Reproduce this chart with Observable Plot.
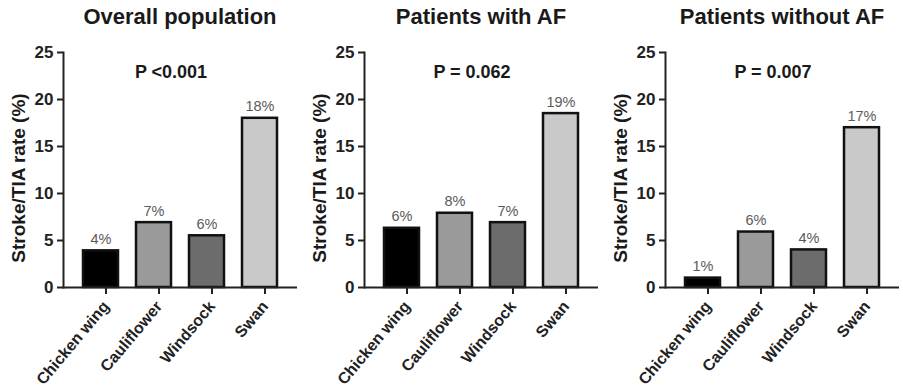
<!DOCTYPE html>
<html>
<head>
<meta charset="utf-8">
<script src="https://cdn.jsdelivr.net/npm/d3@7"></script>
<script src="https://cdn.jsdelivr.net/npm/@observablehq/plot@0.6"></script>
<style>
  html, body { margin: 0; padding: 0; background: #fff; }
  #wrap { display: flex; width: 903px; height: 392px; font-family: "Liberation Sans", Arial, sans-serif; overflow: hidden; }
  .panel { width: 301px; }
  .title { box-sizing: border-box; width: 301px; height: 36px; line-height: 34px; padding-left: 63px; padding-right: 4px;
           text-align: center; font-weight: bold; font-size: 22px; color: #1a1a1a; white-space: nowrap; }
  svg { display: block; overflow: visible; }
</style>
</head>
<body>
<div id="wrap"></div>
<script>
const categories = ["Chicken wing", "Cauliflower", "Windsock", "Swan"];
const fills = ["#000000", "#9a9a9a", "#6c6c6c", "#c9c9c9"];
const titles = ["Overall population", "Patients with AF", "Patients without AF"];
const pValues = ["P <0.001", "P = 0.062", "P = 0.007"];
const overall = [3.9, 6.9, 5.5, 18.0];
const withAF = [6.3, 7.9, 6.9, 18.5];
const withoutAF = [1.0, 5.9, 4.0, 17.0];
const overallLabels = ["4%", "7%", "6%", "18%"];
const withAFLabels = ["6%", "8%", "7%", "19%"];
const withoutAFLabels = ["1%", "6%", "4%", "17%"];
const yTicks = [0, 5, 10, 15, 20, 25];
const yLabel = "Stroke/TIA rate (%)";

const series = [
  {values: overall, labels: overallLabels},
  {values: withAF, labels: withAFLabels},
  {values: withoutAF, labels: withoutAFLabels}
];

const wrap = document.getElementById("wrap");
series.forEach((s, i) => {
  const data = categories.map((c, j) => ({cat: c, v: s.values[j], lab: s.labels[j]}));
  const panel = document.createElement("div");
  panel.className = "panel";
  const t = document.createElement("div");
  t.className = "title";
  t.textContent = titles[i];
  panel.appendChild(t);
  const chart = Plot.plot({
    width: 301,
    height: 356,
    marginTop: 16,
    marginBottom: 105,
    marginLeft: 63,
    marginRight: 4,
    style: {fontFamily: "Liberation Sans, Arial, sans-serif", background: "#fff", color: "#222", overflow: "visible"},
    x: {domain: categories, paddingInner: 0.34, paddingOuter: 0.36},
    y: {domain: [0, 25]},
    color: {domain: categories, range: fills},
    marks: [
      Plot.barY(data, {x: "cat", y: "v", fill: "cat", stroke: "#111", strokeWidth: 2.5}),
      Plot.text(data, {x: "cat", y: "v", text: "lab", dy: -7, lineAnchor: "bottom", fontSize: 14.5, fill: "#5a5a5a"}),
      Plot.text([pValues[i]], {x: () => categories[1], y: () => 22.9, text: d => d, dx: 17, fontSize: 18, fontWeight: "bold", fill: "#1a1a1a"}),
      Plot.ruleY([0], {stroke: "#222", strokeWidth: 2}),
      Plot.frame({anchor: "left", stroke: "#222", strokeWidth: 2}),
      Plot.axisY({ticks: yTicks, tickSize: 6, tickPadding: 4, label: null, fontSize: 17, fontWeight: "bold", stroke: "#222", strokeWidth: 2}),
      Plot.axisX({tickSize: 7, tickPadding: 9, dx: 5, tickRotate: -50, label: null, fontSize: 16, fontWeight: "bold", strokeWidth: 2}),
      Plot.text([yLabel], {frameAnchor: "left", text: d => d, rotate: -90, textAnchor: "middle", dx: -45, dy: 8, fontSize: 19, fontWeight: "bold", fill: "#1a1a1a"})
    ]
  });
  panel.appendChild(chart);
  wrap.appendChild(panel);
});
</script>
</body>
</html>
